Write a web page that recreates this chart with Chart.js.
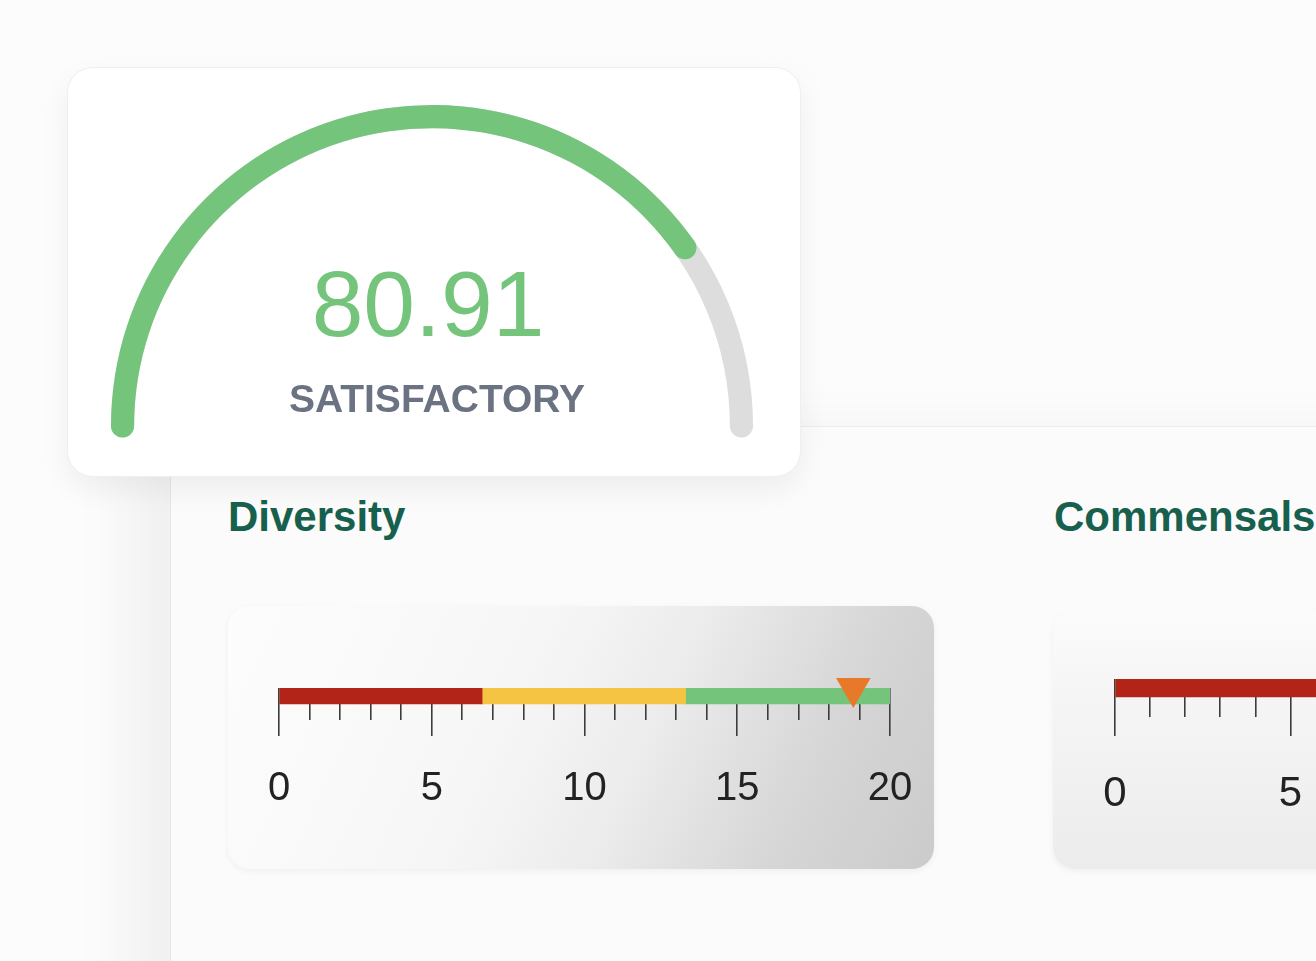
<!DOCTYPE html>
<html>
<head>
<meta charset="utf-8">
<script src="https://cdn.jsdelivr.net/npm/chart.js@4.4.1/dist/chart.umd.min.js"></script>
<style>
  html, body { margin:0; padding:0; }
  body { width:1316px; height:961px; overflow:hidden; background:#fcfcfc; position:relative; font-family:"Liberation Sans", Arial, sans-serif; }
  .abs { position:absolute; }
  #panel { left:170px; top:426px; width:1300px; height:700px; background:#fbfbfb; border-top:1px solid #ececec; border-left:1px solid #e6e6e6; box-shadow:-40px 10px 60px rgba(0,0,0,0.05); }
  #gaugeCard { left:67px; top:67px; width:732px; height:408px; background:#fff; border:1px solid #efefef; border-radius:26px; box-shadow:0 12px 30px rgba(0,0,0,0.06); }
  #gaugeBg, #gaugeFg { left:111px; top:105px; width:642px; height:333px; }
  #score { left:228px; top:258px; width:400px; text-align:center; font-size:93px; line-height:1; color:#75c47c; }
  #status { left:237px; top:379px; width:400px; text-align:center; font-size:39px; line-height:1; font-weight:bold; color:#6b7383; }
  .heading { font-size:42px; line-height:1; font-weight:bold; color:#17604d; }
  #hDiv { left:228px; top:496px; }
  #hCom { left:1054px; top:496px; }
  .lcard { border-radius:22px; box-shadow:0 2px 6px rgba(0,0,0,0.05); }
  #divCard { left:228px; top:606px; width:706px; height:263px; background:linear-gradient(115deg,#fdfdfd 0%,#f6f6f6 40%,#ececec 58%,#d6d6d6 80%,#cbcbcb 100%); }
  #comCard { left:1053px; top:610px; width:706px; height:259px; background:linear-gradient(180deg,#fbfbfb 0%,#f4f4f4 40%,#ececec 100%); }
  #divWrap { left:228px; top:606px; width:726px; height:263px; }
  #comWrap { left:1053px; top:610px; width:820px; height:259px; }
</style>
</head>
<body>
<div id="panel" class="abs"></div>
<div id="gaugeCard" class="abs"></div>
<div id="gaugeBg" class="abs"><canvas id="cGaugeBg"></canvas></div>
<div id="gaugeFg" class="abs"><canvas id="cGaugeFg"></canvas></div>
<div id="score" class="abs">80.91</div>
<div id="status" class="abs">SATISFACTORY</div>
<div id="hDiv" class="abs heading">Diversity</div>
<div id="hCom" class="abs heading">Commensals</div>
<div id="divCard" class="abs lcard"></div>
<div id="comCard" class="abs lcard"></div>
<div id="divWrap" class="abs"><canvas id="cDiv"></canvas></div>
<div id="comWrap" class="abs"><canvas id="cCom"></canvas></div>
<script>
// ---- data ----
const gaugeMax = 100;
const gaugeScore = 80.91;
const gaugeLabel = 'SATISFACTORY';

const diversityMin = 0;
const diversityMax = 20;
const diversityZones = [[0, 6.67], [6.67, 13.33], [13.33, 20]];
const diversityValue = 18.8;

const commensalsMin = 0;
const commensalsMax = 20;
const commensalsZones = [[0, 6.67], [6.67, 13.33], [13.33, 20]];

const zoneColors = ['#b32418', '#f5c443', '#75c47c'];
const majorStep = 5;

// ---- gauge ----
const capDeg = 2.13;
const gaugeCommon = {
  type: 'doughnut',
  options: {
    responsive: true, maintainAspectRatio: false, animation: false, events: [],
    rotation: -90 - capDeg, circumference: 180 + 2 * capDeg, cutout: '92.8%',
    layout: { padding: 0 },
    plugins: { legend: { display: false }, tooltip: { enabled: false } }
  }
};
new Chart(document.getElementById('cGaugeBg'), {
  ...gaugeCommon,
  data: { datasets: [{ data: [gaugeMax], backgroundColor: ['#dddddd'], borderWidth: 0, borderRadius: 11.5 }] }
});
new Chart(document.getElementById('cGaugeFg'), {
  ...gaugeCommon,
  data: { datasets: [{ data: [gaugeScore, gaugeMax - gaugeScore], backgroundColor: ['#75c47c', 'rgba(0,0,0,0)'], borderWidth: 0, borderRadius: 11.5 }] }
});

// ---- linear gauges ----
function linearGauge(canvasId, cfg) {
  const datasets = [{
    type: 'bar', indexAxis: 'y', order: 1,
    data: cfg.zones.map(z => ({ x: z, y: cfg.barY })),
    backgroundColor: zoneColors.slice(0, cfg.zones.length),
    borderWidth: 0, barThickness: cfg.barThickness, grouped: false
  }];
  if (cfg.value !== undefined) {
    datasets.push({
      type: 'scatter', order: 0, clip: false,
      data: [{ x: cfg.value, y: 1 }],
      pointStyle: 'triangle', rotation: 180, pointRadius: 20,
      backgroundColor: '#e8792a', borderWidth: 0
    });
  }
  const axisHeight = cfg.tickLength + cfg.labelPad + cfg.fontSize * 1.2;
  new Chart(document.getElementById(canvasId), {
    type: 'bar',
    data: { datasets },
    options: {
      responsive: true, maintainAspectRatio: false, animation: false, events: [],
      layout: { padding: cfg.padding },
      plugins: { legend: { display: false }, tooltip: { enabled: false } },
      scales: {
        x: {
          type: 'linear', min: cfg.min, max: cfg.max, offset: false,
          border: { display: false },
          afterFit: s => { s.height = axisHeight; },
          grid: {
            display: true, drawOnChartArea: true, drawTicks: true, offset: false,
            tickLength: cfg.tickLength, lineWidth: 1.6,
            color: '#3c3c3c',
            tickColor: c => (c.tick && c.tick.value % majorStep === 0) ? '#3c3c3c' : 'rgba(0,0,0,0)'
          },
          ticks: {
            stepSize: 1, autoSkip: false, maxRotation: 0, padding: cfg.labelPad,
            color: '#222222', font: { family: 'Liberation Sans', size: cfg.fontSize },
            callback: v => (v % majorStep === 0 ? String(v) : '')
          }
        },
        y: { type: 'linear', min: 0, max: 1, offset: false, display: false, grid: { offset: false } }
      }
    }
  });
}

linearGauge('cDiv', {
  min: diversityMin, max: diversityMax, zones: diversityZones, value: diversityValue,
  barY: 0.75, barThickness: 16, tickLength: 16, labelPad: 29, fontSize: 40,
  padding: { left: 51, right: 64, top: 82, bottom: 56 }
});
linearGauge('cCom', {
  min: commensalsMin, max: commensalsMax, zones: commensalsZones,
  barY: 0.763, barThickness: 18, tickLength: 19, labelPad: 33, fontSize: 42,
  padding: { left: 62, right: 50, top: 69, bottom: 49.6 }
});
</script>
</body>
</html>
